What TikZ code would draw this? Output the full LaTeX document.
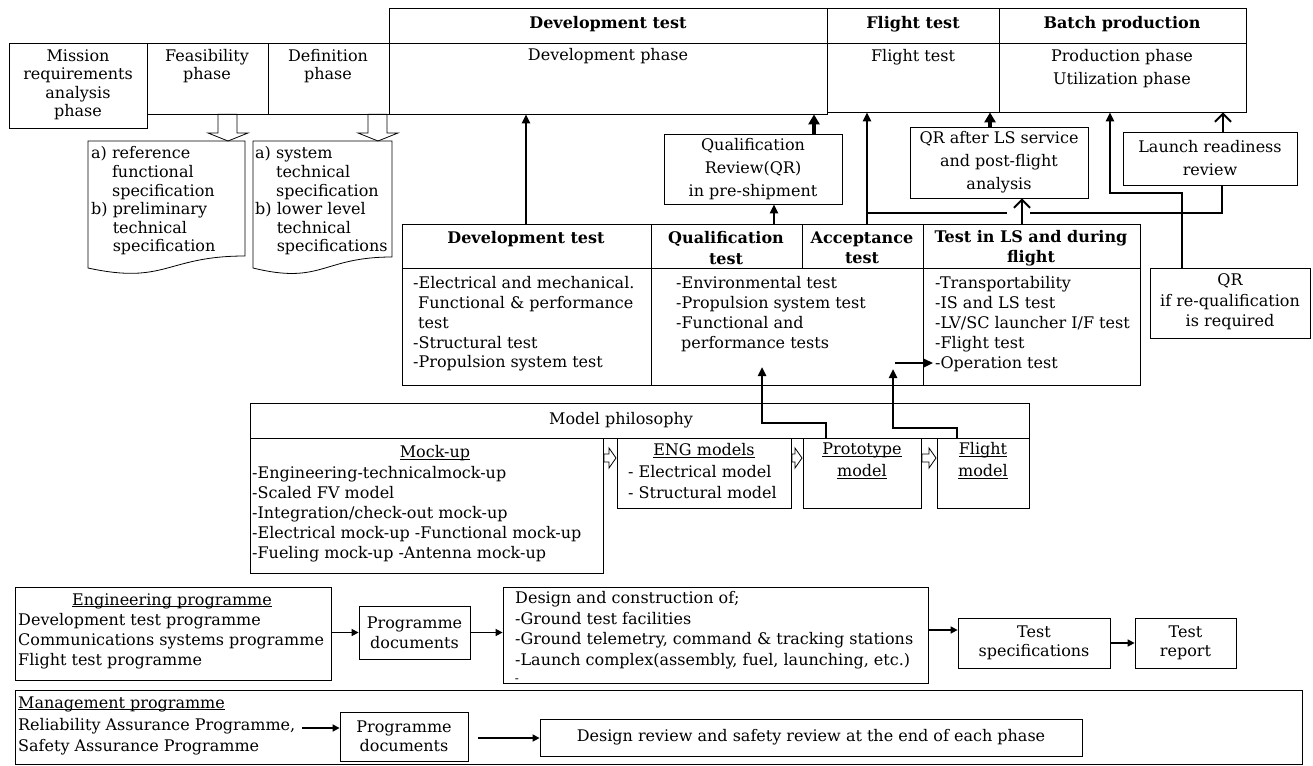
\documentclass[tikz,border=0pt]{standalone}
\usepackage{fontspec}
\setmainfont{DejaVu Serif}
\usetikzlibrary{arrows.meta,fit,calc}
\newcommand\myul[1]{\setbox0\hbox{#1}\rlap{\rule[-2.2pt]{\wd0}{0.9pt}}\box0}
\begin{document}
\begin{tikzpicture}[x=1pt,y=-1pt,
  every node/.style={inner sep=0pt},
  bx/.style={draw,line width=0.8pt,fit={#1},inner sep=0pt},
  tx/.style={font=\fontsize{16}{19.5}\selectfont, align=center},
  txl/.style={font=\fontsize{16}{19.5}\selectfont, align=left, anchor=west},
  hd/.style={font=\fontsize{16}{20.5}\selectfont\bfseries, align=center},
  conn/.style={line width=2.4pt},
  thk/.style={line width=4pt},
  thinc/.style={line width=1.5pt},
  fa/.style={-{Triangle[length=9pt,width=8pt]}},
  fab/.style={-{Triangle[length=10pt,width=11pt]}},
  fs/.style={-{Triangle[length=7pt,width=7pt]}},
  oa/.style={-{Straight Barb[length=8pt,width=16pt,line width=2pt]}},
  hol/.style={draw,line width=0.8pt,fill=white},
]
\useasboundingbox (0,0) rectangle (1313,765);

% ---------- top headers ----------
\node[bx={(389,8)(827,43)}] (devhdr) {};
\node[bx={(827,8)(999,43)}] (fthdr) {};
\node[bx={(999,8)(1246,43)}] (bphdr) {};
\node[hd] (devhdrT) at (608,24) {Development test};
\node[hd] (fthdrT) at (913,24) {Flight test};
\node[hd] (bphdrT) at (1122,24) {Batch production};

% ---------- phases ----------
\node[bx={(9,43)(147,128)}] (mis) {};
\node[bx={(147,43)(268,114)}] (feas) {};
\node[bx={(268,43)(389,114)}] (defn) {};
\node[bx={(389,43)(827,114)}] (devph) {};
\node[bx={(827,43)(999,112)}] (ftph) {};
\node[bx={(999,43)(1246,112)}] (prodph) {};
\node[tx,font=\fontsize{16}{18.5}\selectfont] (misT) at (78,85) {Mission\\requirements\\analysis\\phase};
\node[tx,font=\fontsize{16}{18.5}\selectfont] (feasT) at (207,66) {Feasibility\\phase};
\node[tx,font=\fontsize{16}{18.5}\selectfont] (defnT) at (328,66) {Definition\\phase};
\node[tx] (devphT) at (608,56) {Development phase};
\node[tx] (ftphT) at (913,57) {Flight test};
\node[tx,font=\fontsize{16}{23}\selectfont] (prodT) at (1122,69) {Production phase\\Utilization phase};

% hollow arrows to specification documents
\draw[hol] (218,114.4) -- (237,114.4) -- (237,133) -- (248,133) -- (228,141) -- (208,133) -- (218,133) -- cycle;
\draw[hol] (368,114.4) -- (387,114.4) -- (387,133) -- (398,133) -- (378,141) -- (358,133) -- (368,133) -- cycle;

% specification documents
\draw[line width=0.8pt] (88,141) -- (245,141) -- (245,256) .. controls (166,256) and (166,285) .. (88,268) -- cycle;
\draw[line width=0.8pt] (253,141) -- (392,141) -- (392,257) .. controls (322,257) and (322,285) .. (253,268) -- cycle;
\node[txl,font=\fontsize{16}{18.6}\selectfont] (spec1T) at (91,201) {a)~reference\\\hphantom{a)~}functional\\\hphantom{a)~}specification\\b)~preliminary\\\hphantom{b)~}technical\\\hphantom{b)~}specification};
\node[txl,font=\fontsize{16}{18.6}\selectfont] (spec2T) at (255,201) {a)~system\\\hphantom{a)~}technical\\\hphantom{a)~}specification\\b)~lower level\\\hphantom{b)~}technical\\\hphantom{b)~}specifications};

% ---------- review boxes ----------
\node[bx={(664,134)(842,204)}] (qrpre) {};
\node[tx,font=\fontsize{16}{23}\selectfont] (qrpreT) at (qrpre.center) {Qualification\\Review(QR)\\in pre-shipment};
\node[bx={(910,127)(1088,198)}] (qrls) {};
\node[tx,font=\fontsize{16}{23}\selectfont] (qrlsT) at (qrls.center) {QR after LS service\\and post-flight\\analysis};
\node[bx={(1123,132)(1297,185)}] (lrr) {};
\node[tx,font=\fontsize{16}{23}\selectfont] (lrrT) at (lrr.center) {Launch readiness\\review};
\node[bx={(1150,268)(1310,338)}] (qrreq) {};
\node[tx,font=\fontsize{16}{20.5}\selectfont] (qrreqT) at (1230,302) {QR\\if re-qualification\\is required};

% ---------- test table ----------
\node[bx={(402,224)(1140,385)}] (tbl) {};
\draw[line width=0.8pt] (tbl.west |- 0,268) -- (tbl.east |- 0,268);
\draw[line width=0.8pt] (651,224) -- (651,385);
\draw[line width=0.8pt] (802,224) -- (802,268);
\draw[line width=0.8pt] (923,224) -- (923,385);
\node[hd] (tDev) at (526,239) {Development test};
\node[hd] (tQual) at (726,248) {Qualification\\test};
\node[hd] (tAcc) at (862,248) {Acceptance\\test};
\node[hd] (tLS) at (1031,248) {Test in LS and during\\flight};
\node[txl,font=\fontsize{16}{19.8}\selectfont] (b1) at (413,324) {-Electrical and mechanical.\\\hspace*{5pt}Functional \& performance\\\hspace*{5pt}test\\-Structural test\\-Propulsion system test};
\node[txl,font=\fontsize{16}{19.8}\selectfont] (b2) at (676,314) {-Environmental test\\-Propulsion system test\\-Functional and\\\hspace*{5pt}performance tests};
\node[txl,font=\fontsize{16}{19.8}\selectfont] (b3) at (935,324) {-Transportability\\-IS and LS test\\-LV/SC launcher I/F test\\-Flight test\\-Operation test};

% ---------- model philosophy ----------
\node[bx={(250,403)(1029,438)}] (mp) {};
\node[tx] (mpT) at (621,420) {Model philosophy};
\node[bx={(250,438)(603,573)}] (mock) {};
\node[bx={(617,438)(791,508)}] (eng) {};
\node[bx={(803,438)(921,508)}] (proto) {};
\node[bx={(937,438)(1029,508)}] (fm) {};
\node[tx] (mockH) at (435,453) {\myul{Mock-up}};
\node[txl,font=\fontsize{16}{20}\selectfont] (mockT) at (252,514) {-Engineering-technicalmock-up\\-Scaled FV model\\-Integration/check-out mock-up\\-Electrical mock-up -Functional mock-up\\-Fueling mock-up -Antenna mock-up};
\node[tx] (engH) at (704,451) {\myul{ENG models}};
\node[txl,font=\fontsize{16}{20.5}\selectfont] (engT) at (628,482) {- Electrical model\\- Structural model};
\node[tx,font=\fontsize{16}{22}\selectfont] (protoT) at (862,461) {\myul{Prototype}\\\myul{model}};
\node[tx,font=\fontsize{16}{22}\selectfont] (fmT) at (983,461) {\myul{Flight}\\\myul{model}};
\draw[hol] (604,454) -- (609,454) -- (609,448) -- (616,458) -- (609,468) -- (609,462) -- (604,462) -- cycle;
\draw[hol] (792,454) -- (795,454) -- (795,448) -- (802,458) -- (795,468) -- (795,462) -- (792,462) -- cycle;
\draw[hol] (922,454) -- (929,454) -- (929,448) -- (936,458) -- (929,468) -- (929,462) -- (922,462) -- cycle;

% ---------- connectors ----------
\coordinate (c1) at (526,0);
\draw[conn,fa] (tbl.north -| c1) -- (devph.south -| c1);
\coordinate (c2) at (774,0);
\draw[conn,fa] (tbl.north -| c2) -- (qrpre.south -| c2);
\coordinate (c3) at (814,0);
\draw[thk,fab] (qrpre.north -| c3) -- (devph.south -| c3);
\coordinate (c4) at (867,213);
\coordinate (c4b) at (1007,213);
\draw[conn,fa] (tbl.north -| c4) -- (ftph.south -| c4);
\draw[conn] (c4) -- (c4b);
\coordinate (c5a) at (1030,213);
\coordinate (c5b) at (1222,213);
\draw[conn] (c5a) -- (c5b) -- (lrr.south -| c5b);
\coordinate (c6) at (1022,0);
\draw[conn,oa] (tbl.north -| c6) -- (qrls.south -| c6);
\coordinate (c7) at (990,0);
\draw[thk,fab] (qrls.north -| c7) -- (ftph.south -| c7);
\coordinate (c8) at (1223,0);
\draw[conn,oa] (lrr.north -| c8) -- (prodph.south -| c8);
\coordinate (c9) at (1182,193);
\coordinate (c9b) at (1110,193);
\draw[conn,fa] (qrreq.north -| c9) -- (c9) -- (c9b) -- (prodph.south -| c9b);
\coordinate (c10a) at (826,423);
\coordinate (c10b) at (762,423);
\coordinate (c10c) at (762,367);
\draw[conn,fa] (proto.north -| c10a) -- (c10a) -- (c10b) -- (c10c);
\coordinate (c11a) at (957,428);
\coordinate (c11b) at (893,428);
\coordinate (c11c) at (893,369);
\draw[conn,fa] (fm.north -| c11a) -- (c11a) -- (c11b) -- (c11c);
\coordinate (c12a) at (895,363);
\coordinate (c12b) at (933,363);
\draw[conn,fa] (c12a) -- (c12b);

% ---------- engineering programme ----------
\node[bx={(15,587)(331,680)}] (engp) {};
\node[tx] (engpH) at (172,601) {\myul{Engineering programme}};
\node[txl,font=\fontsize{16}{20}\selectfont] (engpT) at (18,641) {Development test programme\\Communications systems programme\\Flight test programme};
\node[bx={(359,606)(470,659)}] (pd1) {};
\node[tx,font=\fontsize{16}{20}\selectfont] (pd1T) at (pd1.center) {Programme\\documents};
\node[bx={(503,587)(928,683)}] (des) {};
\node[txl,font=\fontsize{16}{20.5}\selectfont] (desT) at (515,630) {Design and construction of;\\-Ground test facilities\\-Ground telemetry, command \& tracking stations\\-Launch complex(assembly, fuel, launching, etc.)};
\node[tx,font=\fontsize{12}{12}\selectfont] (desDash) at (517,680.5) {-};
\node[bx={(958,618)(1110,668)}] (tsp) {};
\node[tx,font=\fontsize{16}{19}\selectfont] (tspT) at (tsp.center) {Test\\specifications};
\node[bx={(1135,618)(1236,668)}] (trp) {};
\node[tx,font=\fontsize{16}{19}\selectfont] (trpT) at (trp.center) {Test\\report};
\draw[thinc,fs] (engp.east |- pd1.center) -- (pd1.west);
\draw[thinc,fs] (pd1.east) -- (des.west |- pd1.east);
\coordinate (c13) at (0,630);
\draw[thinc,fs] (des.east |- c13) -- (tsp.west |- c13);
\draw[thinc,fs] (tsp.east) -- (trp.west);

% ---------- management programme ----------
\node[bx={(15,690)(1302,764)}] (mgmt) {};
\node[txl] (mgH) at (18,704) {\myul{Management programme}};
\node[txl,font=\fontsize{16}{21}\selectfont] (mgT) at (18,737) {Reliability Assurance Programme,\\Safety Assurance Programme};
\node[bx={(340,712)(468,761)}] (pd2) {};
\node[tx,font=\fontsize{16}{19}\selectfont] (pd2T) at (pd2.center) {Programme\\documents};
\node[bx={(540,719)(1082,756)}] (drv) {};
\node[tx] (drvT) at (drv.center) {Design review and safety review at the end of each phase};
\coordinate (c14) at (302,728);
\draw[thinc,fs] (c14) -- (pd2.west |- c14);
\coordinate (c15) at (478,738);
\draw[thinc,fs] (c15) -- (drv.west |- c15);
\end{tikzpicture}
\end{document}
